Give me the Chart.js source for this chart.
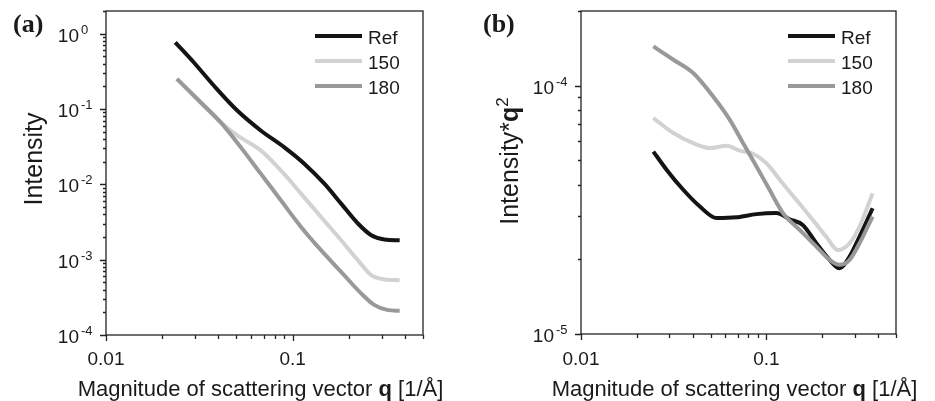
<!DOCTYPE html>
<html>
<head>
<meta charset="utf-8">
<script src="https://cdn.jsdelivr.net/npm/chart.js@4.4.1/dist/chart.umd.min.js"></script>
<style>
  body { margin: 0; background: #fff; width: 935px; height: 401px; position: relative; overflow: hidden; }
  .panel { position: absolute; top: 0; height: 401px; }
</style>
</head>
<body>
<div class="panel" style="left:0;width:468px"><canvas id="chartA" width="468" height="401"></canvas></div>
<div class="panel" style="left:468px;width:467px"><canvas id="chartB" width="467" height="401"></canvas></div>
<script>
// series names and line colours
const seriesLabels = ['Ref', '150', '180'];
const seriesColors = ['#141414', '#d2d2d2', '#999999'];

// (a) scattered intensity vs q
const qRefA = [0.0235, 0.0295, 0.0378, 0.0505, 0.0675, 0.090, 0.1155, 0.148, 0.182, 0.224, 0.264, 0.311, 0.375];
const intRefA = [0.767, 0.417, 0.205, 0.0955, 0.0519, 0.0312, 0.0188, 0.0102, 0.00555, 0.00302, 0.00211, 0.00185, 0.00181];
const q150A = [0.024, 0.0321, 0.0411, 0.0505, 0.0675, 0.0865, 0.111, 0.142, 0.182, 0.224, 0.264, 0.311, 0.375];
const int150A = [0.251, 0.123, 0.0668, 0.0446, 0.0282, 0.0153, 0.00753, 0.00369, 0.00181, 0.00098, 0.000623, 0.000547, 0.000535];
const q180A = [0.024, 0.0321, 0.0411, 0.0527, 0.0675, 0.0865, 0.111, 0.142, 0.182, 0.233, 0.275, 0.325, 0.375];
const int180A = [0.251, 0.123, 0.0668, 0.0312, 0.01386, 0.00614, 0.00272, 0.001336, 0.00069, 0.000357, 0.000249, 0.000214, 0.00021];

// (b) intensity*q^2 vs q
const qRefB = [0.02456, 0.029, 0.0356, 0.0438, 0.0539, 0.069, 0.0884, 0.113, 0.1334, 0.157, 0.186, 0.219, 0.248, 0.281, 0.318, 0.374];
const valRefB = [5.43e-5, 4.58e-5, 3.81e-5, 3.26e-5, 2.93e-5, 2.95e-5, 3.04e-5, 3.07e-5, 2.9e-5, 2.75e-5, 2.32e-5, 1.99e-5, 1.84e-5, 2.05e-5, 2.47e-5, 3.21e-5];
const q150B = [0.02456, 0.0315, 0.0403, 0.0496, 0.061, 0.0718, 0.0847, 0.1, 0.118, 0.145, 0.178, 0.21, 0.243, 0.281, 0.318, 0.374];
const val150B = [7.41e-5, 6.45e-5, 5.87e-5, 5.61e-5, 5.73e-5, 5.48e-5, 5.32e-5, 4.88e-5, 4.18e-5, 3.47e-5, 2.88e-5, 2.47e-5, 2.18e-5, 2.32e-5, 2.71e-5, 3.69e-5];
const q180B = [0.02456, 0.0315, 0.0403, 0.0516, 0.0635, 0.0749, 0.0884, 0.104, 0.1228, 0.151, 0.186, 0.219, 0.248, 0.281, 0.318, 0.359, 0.374];
const val180B = [1.44e-4, 1.273e-4, 1.125e-4, 9.05e-5, 7.29e-5, 5.87e-5, 4.73e-5, 3.81e-5, 3.07e-5, 2.63e-5, 2.25e-5, 1.99e-5, 1.90e-5, 1.99e-5, 2.32e-5, 2.79e-5, 2.97e-5];

// axis ranges and decade labels
const xRange = [0.01, 0.5];
const xMajorTicks = [0.01, 0.1];
const yRangeA = [1e-4, 2];
const yMajorA = [-4, -3, -2, -1, 0];
const yRangeB = [1e-5, 2e-4];
const yMajorB = [-5, -4];

const SANS = '"Liberation Sans", Arial, sans-serif';
const INK = '#1a1a1a';

function toPoints(qs, vals) {
  return qs.map((q, i) => ({ x: q, y: vals[i] }));
}

function makeDatasets(sets) {
  // 180 on top, Ref underneath
  return sets.map((pts, i) => ({
    label: seriesLabels[i],
    data: pts,
    borderColor: seriesColors[i],
    borderWidth: 4,
    pointRadius: 0,
    cubicInterpolationMode: 'monotone',
    fill: false,
    order: 2 - i
  }));
}

// draw a run of text pieces: {t, bold, sup}
function drawRich(ctx, parts, x, y, size, align) {
  const setFont = p => {
    ctx.font = (p.bold ? 'bold ' : '') + (p.sup ? size * 0.68 : size) + 'px ' + SANS;
  };
  const widths = parts.map(p => { setFont(p); return ctx.measureText(p.t).width; });
  const total = widths.reduce((a, b) => a + b, 0);
  let cx = align === 'center' ? x - total / 2 : x;
  parts.forEach((p, i) => {
    setFont(p);
    ctx.fillText(p.t, cx, p.sup ? y - size * 0.42 : y);
    cx += widths[i];
  });
}

function logTicks(min, max) {
  const out = [];
  for (let e = Math.floor(Math.log10(min)); e <= Math.ceil(Math.log10(max)); e++) {
    for (let m = 1; m < 10; m++) {
      const v = m * Math.pow(10, e);
      if (v >= min * 0.999 && v <= max * 1.001) out.push({ v, major: m === 1 });
    }
  }
  return out;
}

const framePlugin = {
  id: 'frame',
  afterDraw(chart, args, opts) {
    const { ctx, chartArea: a, scales } = chart;
    const xs = scales.x, ys = scales.y;
    ctx.save();
    ctx.strokeStyle = '#222';
    ctx.fillStyle = INK;
    ctx.lineWidth = 1.3;
    ctx.strokeRect(a.left, a.top, a.right - a.left, a.bottom - a.top);

    // tick marks, pointing outwards
    ctx.beginPath();
    logTicks(xs.min, xs.max).forEach(t => {
      const px = Math.round(xs.getPixelForValue(t.v)) + 0.5;
      ctx.moveTo(px, a.bottom);
      ctx.lineTo(px, a.bottom + (t.major ? 6 : 4));
    });
    logTicks(ys.min, ys.max).forEach(t => {
      const py = Math.round(ys.getPixelForValue(t.v)) + 0.5;
      ctx.moveTo(a.left, py);
      ctx.lineTo(a.left - (t.major ? 6 : 3), py);
    });
    ctx.stroke();

    // x tick labels
    ctx.textBaseline = 'alphabetic';
    ctx.textAlign = 'left';
    xMajorTicks.forEach(v => {
      drawRich(ctx, [{ t: String(v) }], xs.getPixelForValue(v), 365, 19, 'center');
    });

    // y decade labels as 10 with a raised exponent
    opts.decades.forEach(e => {
      const py = ys.getPixelForValue(Math.pow(10, e));
      ctx.font = '19px ' + SANS;
      const w = ctx.measureText('10').width;
      ctx.fillText('10', a.left - 27 - w, py + 8);
      ctx.font = '13px ' + SANS;
      ctx.fillText(String(e), a.left - 25, py);
    });

    // x title
    drawRich(ctx, [
      { t: 'Magnitude of scattering vector ' },
      { t: 'q', bold: true },
      { t: ' [1/\u00c5]' }
    ], (a.left + a.right) / 2 + opts.xTitleShift, 396, 22, 'center');

    // y title, rotated
    ctx.save();
    ctx.translate(opts.yTitleX, opts.yTitleY);
    ctx.rotate(-Math.PI / 2);
    drawRich(ctx, opts.yTitle, 0, 0, 25, 'center');
    ctx.restore();

    // panel letter
    ctx.font = 'bold 26px "Liberation Serif", "Times New Roman", serif';
    ctx.fillText(opts.letter, opts.letterX, 32);

    // legend, top right inside the frame
    const lx = a.right - 108;
    chart.data.datasets.forEach((ds, i) => {
      const ly = 36 + i * 25;
      ctx.strokeStyle = ds.borderColor;
      ctx.lineWidth = 4;
      ctx.beginPath();
      ctx.moveTo(lx, ly);
      ctx.lineTo(lx + 47, ly);
      ctx.stroke();
      ctx.font = '19px ' + SANS;
      ctx.fillStyle = INK;
      ctx.fillText(ds.label, lx + 53, ly + 8);
    });
    ctx.restore();
  }
};

function buildChart(id, datasets, yRange, padding, frameOpts) {
  return new Chart(document.getElementById(id), {
    type: 'line',
    data: { datasets },
    options: {
      responsive: false,
      animation: false,
      layout: { padding },
      plugins: { legend: { display: false }, tooltip: { enabled: false }, frame: frameOpts },
      scales: {
        x: { type: 'logarithmic', min: xRange[0], max: xRange[1], display: false },
        y: { type: 'logarithmic', min: yRange[0], max: yRange[1], display: false }
      }
    },
    plugins: [framePlugin]
  });
}

buildChart('chartA', makeDatasets([
  toPoints(qRefA, intRefA),
  toPoints(q150A, int150A),
  toPoints(q180A, int180A)
]), yRangeA, { left: 106, right: 45, top: 11, bottom: 66 }, {
  letter: '(a)', letterX: 13, decades: yMajorA,
  yTitle: [{ t: 'Intensity' }], yTitleX: 42, yTitleY: 159, xTitleShift: -4
});

buildChart('chartB', makeDatasets([
  toPoints(qRefB, valRefB),
  toPoints(q150B, val150B),
  toPoints(q180B, val180B)
]), yRangeB, { left: 113, right: 39, top: 11, bottom: 67 }, {
  letter: '(b)', letterX: 15, decades: yMajorB,
  yTitle: [{ t: 'Intensity*' }, { t: 'q', bold: true }, { t: '2', sup: true }], yTitleX: 50, yTitleY: 161, xTitleShift: -4
});
</script>
</body>
</html>
